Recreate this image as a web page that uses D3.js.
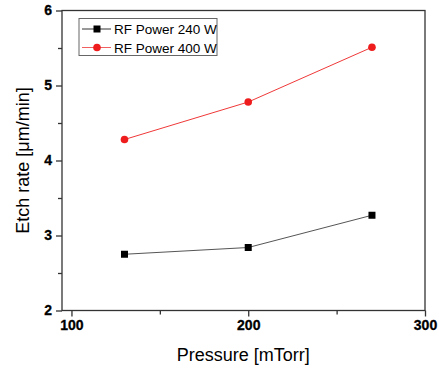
<!DOCTYPE html>
<html>
<head>
<meta charset="utf-8">
<script src="https://cdn.jsdelivr.net/npm/d3@7"></script>
<style>
  body { margin: 0; background: #fff; }
  svg { display: block; font-family: "Liberation Sans", Arial, sans-serif; }
  .axis path, .axis line { stroke: #333; stroke-width: 1.3; }
</style>
</head>
<body>
<div id="chart"></div>
<script>
var pressures = [130, 200, 270];
var rate240 = [2.75, 2.84, 3.27];
var rate400 = [4.28, 4.78, 5.51];
var seriesNames = ['RF Power 240 W', 'RF Power 400 W'];
var xTicks = [100, 200, 300];
var yTicks = [2, 3, 4, 5, 6];

var widthCont = 439, heightCont = 369;
var margin = {top: 10.5, right: 14, bottom: 58.5, left: 62};
var width = widthCont - margin.left - margin.right;
var height = heightCont - margin.top - margin.bottom;

var x = d3.scaleLinear().domain([94.65, 300]).range([0, width]);
var y = d3.scaleLinear().domain([2, 6]).range([height, 0]);

var svg = d3.select('#chart').append('svg')
  .attr('width', widthCont)
  .attr('height', heightCont)
.append('g')
  .attr('transform', 'translate(' + margin.left + ',' + margin.top + ')');

// frame
svg.append('rect')
  .attr('width', width).attr('height', height)
  .attr('fill', 'none').attr('stroke', '#333').attr('stroke-width', 1.3);

// minor ticks
svg.append('g').attr('class', 'axis')
  .attr('transform', 'translate(0,' + height + ')')
  .call(d3.axisBottom(x).tickValues([150, 250]).tickSize(4).tickFormat(''))
  .select('.domain').remove();
svg.append('g').attr('class', 'axis')
  .call(d3.axisLeft(y).tickValues([2.5, 3.5, 4.5, 5.5]).tickSize(4).tickFormat(''))
  .select('.domain').remove();

// major ticks
var xAxis = svg.append('g').attr('class', 'axis')
  .attr('transform', 'translate(0,' + height + ')')
  .call(d3.axisBottom(x).tickValues(xTicks).tickSize(6).tickPadding(4).tickFormat(d3.format('d')));
xAxis.select('.domain').remove();

var yAxis = svg.append('g').attr('class', 'axis')
  .call(d3.axisLeft(y).tickValues(yTicks).tickSize(6).tickPadding(4).tickFormat(d3.format('d')));
yAxis.select('.domain').remove();

svg.selectAll('.axis')
  .attr('font-size', 14)
  .attr('font-weight', 700)
  .attr('font-family', '"Liberation Sans", Arial, sans-serif');
svg.selectAll('.axis text')
  .attr('fill', '#000')
  .attr('stroke', '#000')
  .attr('stroke-width', 0.3);

// axis titles
svg.append('text')
  .attr('x', x(200) - 5)
  .attr('y', height + 50)
  .attr('text-anchor', 'middle')
  .style('font-size', '18px')
  .text('Pressure [mTorr]');

svg.append('text')
  .attr('transform', 'translate(' + (-33) + ',' + (height / 2) + ') rotate(-90)')
  .attr('text-anchor', 'middle')
  .style('font-size', '18px')
  .text('Etch rate [\u03bcm/min]');

var line = d3.line()
  .x(function(d) { return x(d[0]); })
  .y(function(d) { return y(d[1]); });

var data240 = pressures.map(function(p, i) { return [p, rate240[i]]; });
var data400 = pressures.map(function(p, i) { return [p, rate400[i]]; });

svg.append('path').datum(data240)
  .attr('d', line).attr('fill', 'none')
  .attr('stroke', '#555').attr('stroke-width', 1);
svg.append('path').datum(data400)
  .attr('d', line).attr('fill', 'none')
  .attr('stroke', '#f03838').attr('stroke-width', 1);

svg.selectAll('.sq').data(data240)
  .enter().append('rect')
  .attr('class', 'sq')
  .attr('x', function(d) { return x(d[0]) - 3.5; })
  .attr('y', function(d) { return y(d[1]) - 3.5; })
  .attr('width', 7).attr('height', 7)
  .attr('fill', '#000');

svg.selectAll('.dot').data(data400)
  .enter().append('circle')
  .attr('class', 'dot')
  .attr('cx', function(d) { return x(d[0]); })
  .attr('cy', function(d) { return y(d[1]); })
  .attr('r', 3.8)
  .attr('fill', '#ee1c1c');

// legend
var lg = svg.append('g').attr('transform', 'translate(' + (79 - margin.left) + ',' + (18.5 - margin.top) + ')');
lg.append('rect')
  .attr('width', 138).attr('height', 37)
  .attr('fill', '#fff').attr('stroke', '#666').attr('stroke-width', 1);

var rows = [
  {name: seriesNames[0], color: '#000', lineColor: '#333', shape: 'sq', dy: 10.5},
  {name: seriesNames[1], color: '#ee1c1c', lineColor: '#f06060', shape: 'dot', dy: 29}
];
rows.forEach(function(r) {
  var g = lg.append('g').attr('transform', 'translate(0,' + r.dy + ')');
  g.append('line').attr('x1', 3).attr('x2', 32).attr('y1', 0).attr('y2', 0)
    .attr('stroke', r.lineColor).attr('stroke-width', 1);
  if (r.shape === 'sq') {
    g.append('rect').attr('x', 14.5).attr('y', -3.5).attr('width', 7).attr('height', 7).attr('fill', r.color);
  } else {
    g.append('circle').attr('cx', 18).attr('cy', 0).attr('r', 3.8).attr('fill', r.color);
  }
  g.append('text').attr('x', 35).attr('y', 5)
    .style('font-size', '13.5px')
    .text(r.name);
});
</script>
</body>
</html>
